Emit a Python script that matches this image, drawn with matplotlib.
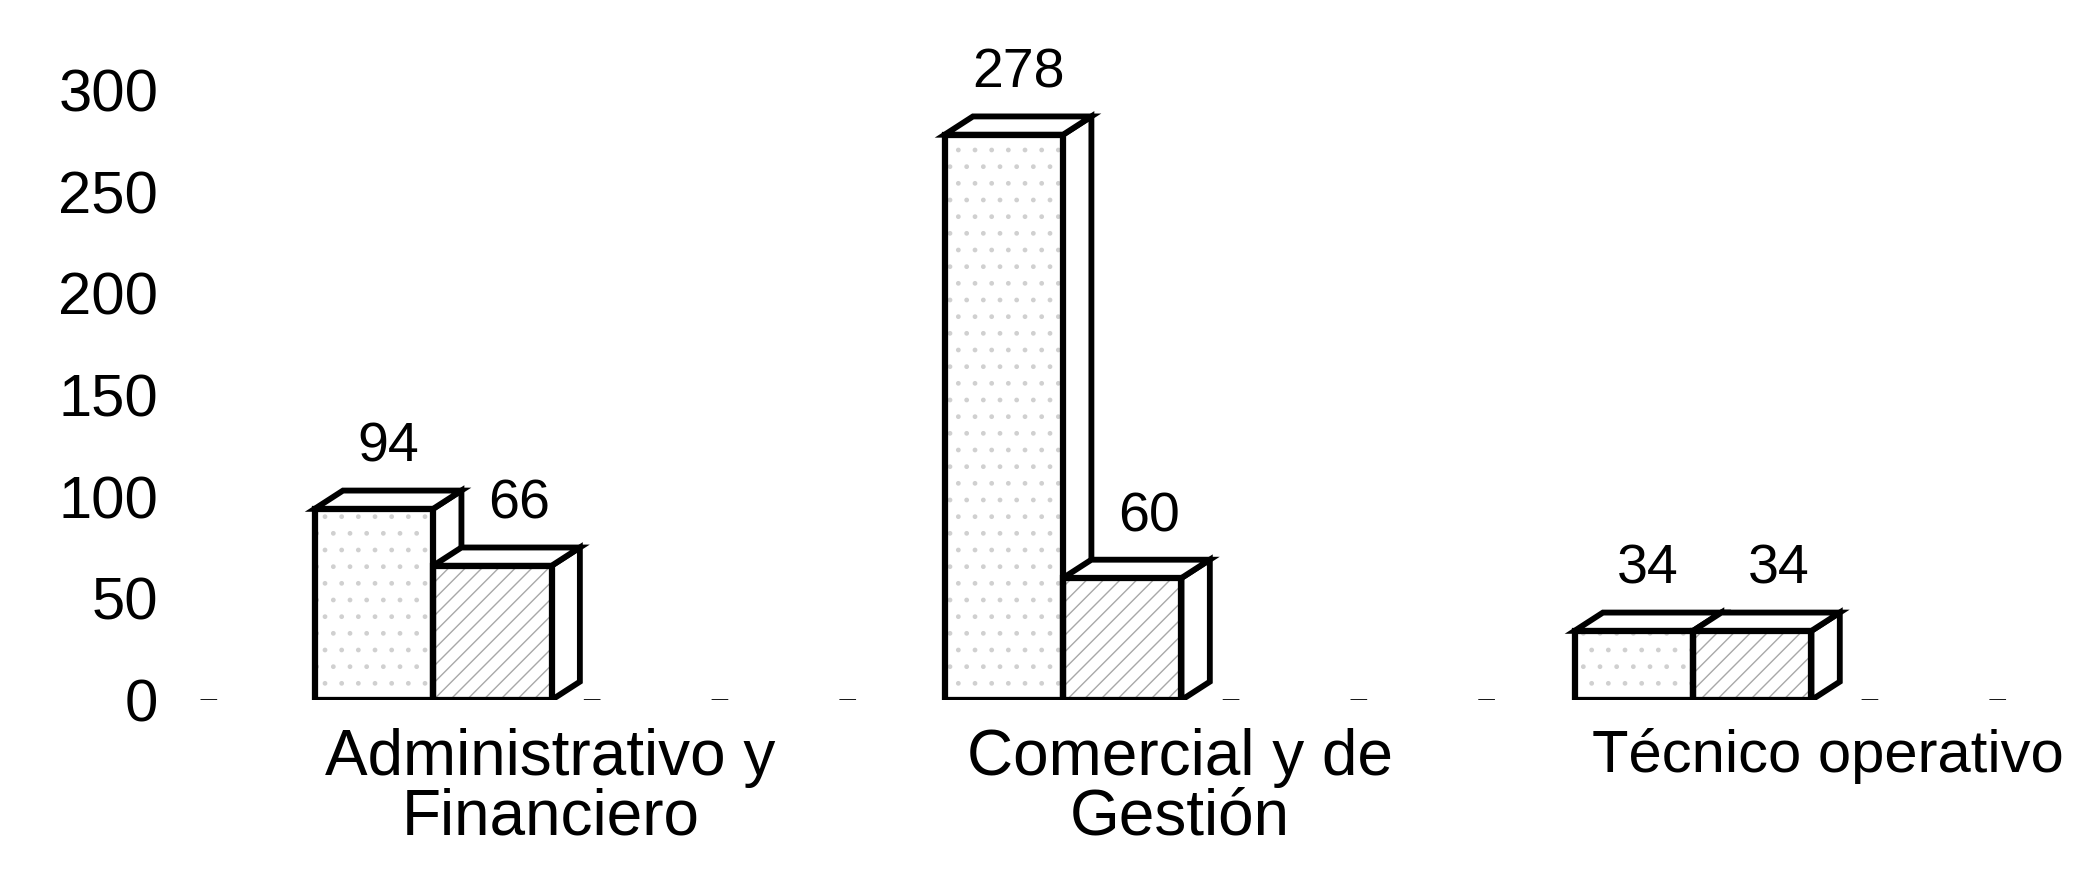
import matplotlib.pyplot as plt
from matplotlib.patches import Polygon
from matplotlib.transforms import ScaledTranslation
import numpy as np

plt.rcParams['font.family'] = ['Liberation Sans', 'DejaVu Sans']

categories = ["Administrativo y\nFinanciero", "Comercial y de\nGestión", "Técnico operativo"]
serie_a = [94, 278, 34]
serie_b = [66, 60, 34]
y_ticks = [0, 50, 100, 150, 200, 250, 300]

# layout (data units)
bar_w = 0.188
offsets = [-0.28, -0.092]
depth_x = 0.045
depth_y = 9

fig = plt.figure(figsize=(20.88, 8.9), dpi=100)
ax = fig.add_axes([200 / 2088, 190 / 890, 1888 / 2088, 671 / 890])
ax.set_xlim(-0.556, 2.441)
ax.set_ylim(0, 330)

x = np.arange(len(categories))


def draw_bar(xc, h, hatch, hatch_col):
    left = xc - bar_w / 2
    right = xc + bar_w / 2
    # depth faces (top and side), computed from the bar geometry
    top = Polygon([(left, h), (left + depth_x, h + depth_y), (right + depth_x, h + depth_y), (right, h)],
                  closed=True, facecolor="white", edgecolor="black", linewidth=4.2, zorder=2)
    side = Polygon([(right, 0), (right, h), (right + depth_x, h + depth_y), (right + depth_x, depth_y)],
                   closed=True, facecolor="white", edgecolor="black", linewidth=4.2, zorder=2)
    ax.add_patch(side)
    ax.add_patch(top)
    ax.bar(xc, h, width=bar_w, color="white", edgecolor=hatch_col, hatch=hatch,
           linewidth=0, zorder=3)
    ax.bar(xc, h, width=bar_w, fill=False, edgecolor="black", linewidth=4.5, zorder=4)


for i in range(len(categories)):
    draw_bar(x[i] + offsets[0], serie_a[i], ".", "#d0d0d0")
    draw_bar(x[i] + offsets[1], serie_b[i], "//", "#a8a8a8")
    ax.text(x[i] + offsets[0] + depth_x / 2, serie_a[i] + 30, str(serie_a[i]),
            ha="center", va="center", fontsize=40)
    ax.text(x[i] + offsets[1] + depth_x / 2 + 0.02, serie_b[i] + 30, str(serie_b[i]),
            ha="center", va="center", fontsize=40)

# faint dashed floor line, like the scanned original
ax.axhline(0, color="black", linewidth=2, dashes=(6, 40), zorder=1)

ax.set_yticks(y_ticks)
ax.set_yticklabels([str(t) for t in y_ticks], fontsize=43)
ax.set_xticks(x)
ax.set_xticklabels(categories, fontsize=46, linespacing=1.0)
ax.tick_params(axis="y", length=0, pad=30)
ax.tick_params(axis="x", length=0, pad=20)
for s in ax.spines.values():
    s.set_visible(False)

# the last category label sits a little to the right in the original
lab = ax.get_xticklabels()[2]
lab.set_fontsize(43)
lab.set_transform(lab.get_transform() + ScaledTranslation(0.18, 0, fig.dpi_scale_trans))

fig.savefig("out.png", dpi=100, facecolor="white")
